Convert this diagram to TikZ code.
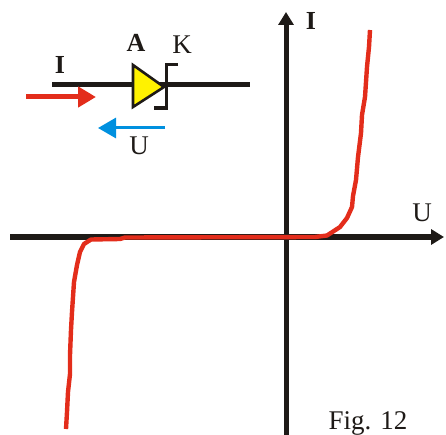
\documentclass[tikz,border=0pt]{standalone}
\usepackage{fontspec}
\setmainfont{Liberation Serif}
\usepackage{xcolor}
\definecolor{cblack}{HTML}{1E1A17}
\definecolor{cred}{HTML}{E32D1B}
\definecolor{cblue}{HTML}{0090DF}
\usetikzlibrary{arrows.meta}
\tikzset{
Axis/.style={
	draw=cblack,
	line width=5pt,
	-{Triangle[length=13pt, width=15pt]}
},
Wire/.style={
	draw=cblack,
	line width=5pt
},
Curve/.style={
	draw=cred,
	line width=4.4pt,
	line join=round
},
RedArrow/.style={
	draw=cred,
	line width=5pt,
	-{Triangle[length=18pt, width=20pt]}
},
BlueArrow/.style={
	draw=cblue,
	line width=3pt,
	-{Triangle[length=18pt, width=20pt]}
},
Letter/.style={
	text=cblack,
	inner sep=0pt,
	font=\fontsize{27}{27}\selectfont
},
BoldLetter/.style={
	Letter,
	font=\fontsize{26}{26}\selectfont\bfseries
}
}

\begin{document}
\begin{tikzpicture}[x=1pt, y=-1pt]
	\useasboundingbox (0,0) rectangle (446,435);

	% axes
	\coordinate (xstart) at (10,237);
	\coordinate (xend) at (444,237);
	\coordinate (ystart) at (286,436);
	\coordinate (yend) at (286,12);
	\draw[Axis] (xstart) -- (xend);
	\draw[Axis] (ystart) -- (yend);

	% characteristic
	\draw[Curve] (66,429) -- (67,412) -- (68,392) -- (70,374) -- (70,355) -- (71,330)
		-- (72,312) -- (74,282) -- (77,265) -- (80,252) -- (84,244) -- (91,239.5)
		-- (120,239) -- (125,237.5) -- (315,237) -- (327,235.5) -- (340,227) -- (347,218)
		-- (352,207) -- (353,196) -- (356,180) -- (358,157) -- (361,133) -- (362,115)
		-- (365,97) -- (367,67) -- (369,47) -- (370,30);

	% diode
	\coordinate (wirestart) at (52,85);
	\coordinate (wireend) at (250,85);
	\draw[Wire] (wirestart) -- (wireend);
	\coordinate (anodetop) at (133,65);
	\coordinate (anodebottom) at (133,107);
	\coordinate (apex) at (164,87);
	\draw[draw=cblack, line width=2.6pt, fill=yellow, line join=miter] (anodetop) -- (apex) -- (anodebottom) -- cycle;
	\coordinate (cathodetop) at (178,64.5);
	\coordinate (cathodeleft) at (166.5,64.5);
	\coordinate (cathoderight) at (166.5,108);
	\coordinate (cathodebottom) at (154,108);
	\draw[draw=cblack, line width=3.4pt] (cathodetop) -- (cathodeleft) -- (cathoderight) -- (cathodebottom);

	% current and voltage
	\coordinate (istart) at (26,97);
	\coordinate (iend) at (96,97);
	\coordinate (ustart) at (165,128);
	\coordinate (uend) at (98,128);
	\draw[RedArrow] (istart) -- (iend);
	\draw[BlueArrow] (ustart) -- (uend);

	% labels
	\node[BoldLetter] (labelI) at (60,65) {I};
	\node[BoldLetter] (labelA) at (136,43) {A};
	\node[Letter] (labelK) at (182,45) {K};
	\node[Letter] (labelU) at (139,146) {U};
	\node[BoldLetter] (axisI) at (311,21) {I};
	\node[Letter] (axisU) at (422,213) {U};
	\node[Letter, anchor=base] (caption) at (368,429) {Fig. 12};
\end{tikzpicture}
\end{document}
